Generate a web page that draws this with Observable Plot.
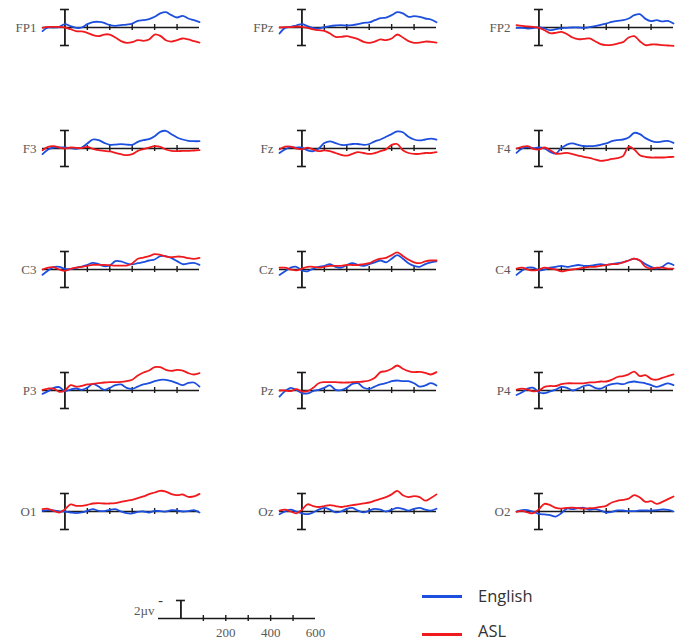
<!DOCTYPE html>
<html>
<head>
<meta charset="utf-8">
<script src="https://cdn.jsdelivr.net/npm/d3@7"></script>
<script src="https://cdn.jsdelivr.net/npm/@observablehq/plot@0.6"></script>
<style>
  html, body { margin: 0; padding: 0; background: #fff; }
  #wrap { position: relative; width: 683px; height: 642px; overflow: hidden; }
  #main { position: absolute; left: 0; top: 0; }
  #scale { position: absolute; left: 0; top: 582px; }
  .leg { position: absolute; font-family: "Open Sans", sans-serif; font-size: 16.5px; line-height: 14px; color: #333; white-space: nowrap; }
  .sw { position: absolute; height: 3px; width: 40px; }
</style>
</head>
<body>
<div id="wrap">
  <div id="main"></div>
  <div id="scale"></div>
  <div id="legend"></div>
</div>
<script>
// ---- data (µV; negative plotted up) ----
const times = [-100,-75,-50,-25,0,25,50,75,100,125,150,175,200,225,250,275,300,325,350,375,400,425,450,475,500,525,550,575,600];
const grid = [["FP1","FPz","FP2"],["F3","Fz","F4"],["C3","Cz","C4"],["P3","Pz","P4"],["O1","Oz","O2"]];
const groups = ["English","ASL"];
const groupColors = ["#1d4fde","#f01a1e"];
const scaleTicks = [100,200,300,400,500];
const scaleLabels = [200,400,600];

const en_FP1 = [0.4,0,0,-0.07,-0.37,-0.15,0.04,0,-0.37,-0.6,-0.63,-0.52,-0.26,-0.19,-0.26,-0.33,-0.44,-0.74,-0.81,-0.93,-1.19,-1.56,-1.7,-1.37,-1.11,-1.3,-1.0,-0.81,-0.6];
const asl_FP1 = [0.04,-0.07,-0.07,-0.07,0,0.19,0.41,0.44,0.59,0.85,0.96,0.78,0.78,1.11,1.52,1.7,1.63,1.41,1.48,1.33,0.78,0.93,1.41,1.56,1.41,1.22,1.33,1.52,1.67];
const en_FPz = [0.67,0.04,-0.07,-0.22,-0.37,-0.15,0.07,0.11,-0.04,-0.15,-0.22,-0.26,-0.22,-0.26,-0.37,-0.52,-0.56,-0.81,-1.04,-1.11,-1.37,-1.7,-1.56,-1.19,-1.26,-1.19,-1.0,-0.89,-0.59];
const asl_FPz = [0,-0.04,-0.04,-0.11,-0.07,0.04,0.22,0.3,0.37,0.67,1.04,1.04,0.96,1.11,1.3,1.59,1.7,1.56,1.33,1.41,1.22,0.78,1.11,1.52,1.7,1.67,1.56,1.59,1.67];
const en_FP2 = [0.04,0.04,0.11,0.07,-0.04,0.11,0.3,0.19,0.07,0.04,0,0,0.04,-0.04,-0.15,-0.3,-0.44,-0.63,-0.74,-0.81,-1.0,-1.37,-1.48,-0.96,-0.7,-0.81,-0.67,-0.74,-0.44];
const asl_FP2 = [-0.26,-0.19,-0.11,-0.07,0.04,0.3,0.63,0.59,0.48,0.74,1.11,1.3,1.26,1.22,1.52,1.85,1.96,1.93,1.78,1.63,1.11,0.96,1.52,1.96,1.89,1.89,1.96,2.0,2.04];
const en_F3 = [0.63,0.11,-0.11,-0.11,-0.11,-0.04,0.04,-0.11,-0.56,-1.0,-0.93,-0.63,-0.41,-0.44,-0.48,-0.44,-0.41,-0.74,-0.93,-1.04,-1.37,-1.85,-1.96,-1.59,-1.22,-1.0,-0.85,-0.81,-0.81];
const asl_F3 = [0.19,-0.19,-0.26,-0.11,0,-0.11,-0.07,-0.04,-0.19,0.04,0.19,0.26,0.33,0.48,0.63,0.74,0.63,0.26,0.07,-0.11,-0.26,-0.19,0.11,0.26,0.3,0.26,0.26,0.22,0.19];
const en_Fz = [0.5,0.1,-0.15,-0.1,-0.1,0.2,0.3,0,-0.6,-0.8,-0.6,-0.4,-0.4,-0.5,-0.5,-0.4,-0.5,-0.8,-1.0,-1.3,-1.6,-1.9,-1.8,-1.3,-1.0,-0.9,-1.0,-1.1,-1.0];
const asl_Fz = [0.1,-0.2,-0.2,0,0.1,-0.1,0.1,0.3,0.2,0.3,0.5,0.7,0.8,0.6,0.4,0.5,0.6,0.5,0.3,0.1,-0.4,-0.5,0.2,0.5,0.6,0.6,0.5,0.5,0.4];
const en_F4 = [0.48,0,-0.15,-0.04,-0.11,0,0.37,0.56,-0.04,-0.44,-0.56,-0.41,-0.26,-0.26,-0.3,-0.41,-0.56,-0.81,-0.93,-1.0,-1.22,-1.74,-1.59,-1.15,-0.85,-0.7,-0.78,-0.85,-0.63];
const asl_F4 = [0,-0.19,-0.26,0.04,0.11,-0.11,0.19,0.56,0.56,0.48,0.63,0.78,0.93,1.04,1.22,1.37,1.3,1.15,1.07,0.85,-0.19,0.11,0.74,0.93,1.0,1.0,1.0,0.96,0.93];
const en_C3 = [0.59,0.11,-0.26,-0.3,-0.07,-0.04,-0.19,-0.33,-0.52,-0.74,-0.59,-0.37,-0.44,-0.93,-0.89,-0.67,-0.56,-0.7,-0.81,-1.0,-1.11,-1.48,-1.48,-1.26,-0.93,-0.59,-0.67,-0.74,-0.52];
const asl_C3 = [0,-0.22,-0.26,0,0.15,-0.07,-0.22,-0.3,-0.41,-0.52,-0.52,-0.52,-0.48,-0.44,-0.44,-0.44,-0.67,-1.19,-1.33,-1.48,-1.7,-1.63,-1.44,-1.37,-1.44,-1.41,-1.26,-1.19,-1.3];
const en_Cz = [0.6,0.2,-0.2,-0.3,0.1,0.2,-0.1,-0.3,-0.4,-0.6,-0.3,-0.2,-0.5,-0.7,-0.5,-0.4,-0.6,-0.8,-1.0,-0.8,-1.2,-1.6,-1.2,-0.7,-0.4,-0.3,-0.6,-0.8,-0.9];
const asl_Cz = [-0.2,-0.2,0,0.1,-0.1,-0.3,-0.3,-0.2,-0.3,-0.4,-0.4,-0.4,-0.5,-0.5,-0.5,-0.6,-0.7,-1.0,-1.2,-1.3,-1.6,-1.9,-1.5,-1.1,-0.8,-0.7,-0.9,-1.0,-1.0];
const en_C4 = [0.6,0.1,-0.2,-0.2,0.1,0,-0.2,-0.3,-0.4,-0.3,-0.4,-0.5,-0.4,-0.4,-0.5,-0.6,-0.5,-0.6,-0.7,-0.8,-1.0,-1.2,-1.0,-0.6,-0.3,-0.1,-0.3,-0.7,-0.5];
const asl_C4 = [-0.1,-0.2,0,0.1,0,-0.2,-0.1,0,0.2,0.1,0,-0.1,-0.2,-0.3,-0.3,-0.4,-0.5,-0.6,-0.6,-0.8,-1.0,-1.2,-1.0,-0.3,-0.1,-0.2,-0.2,-0.1,-0.1];
const en_P3 = [0.37,0.07,-0.3,-0.37,0.07,-0.11,-0.22,-0.07,-0.3,-0.74,-0.44,-0.07,-0.3,-0.59,-0.67,-0.3,-0.19,-0.44,-0.67,-0.81,-1.04,-1.19,-1.19,-1.04,-0.81,-0.59,-0.85,-0.89,-0.44];
const asl_P3 = [-0.07,-0.22,-0.22,0.15,0,-0.59,-0.44,-0.52,-0.67,-0.74,-0.81,-0.89,-0.93,-0.93,-0.96,-1.04,-1.19,-1.67,-2.0,-2.22,-2.59,-2.59,-2.3,-2.19,-2.3,-2.22,-1.93,-1.78,-1.93];
const en_Pz = [0.67,0.07,-0.3,-0.07,0.3,0.33,0.07,-0.07,-0.3,-0.56,-0.07,-0.04,-0.3,-0.74,-0.81,-0.3,-0.19,-0.44,-0.67,-0.81,-1.04,-1.11,-1.04,-1.04,-0.81,-0.44,-0.56,-0.81,-0.56];
const asl_Pz = [0,0,0.07,-0.15,0.11,0.07,-0.3,-0.81,-0.93,-0.93,-0.93,-0.89,-0.89,-0.93,-0.96,-1.0,-1.11,-1.41,-2.04,-2.15,-2.41,-2.78,-2.41,-2.15,-2.04,-2.07,-1.96,-1.78,-2.04];
const en_P4 = [0.5,0.2,-0.2,-0.3,0.2,0.3,0.1,-0.1,-0.4,-0.3,0,-0.2,-0.5,-0.6,-0.3,-0.2,-0.5,-0.7,-0.8,-0.7,-0.9,-1.0,-0.9,-0.8,-0.6,-0.4,-0.6,-0.8,-0.6];
const asl_P4 = [-0.1,-0.2,-0.1,0.1,0,-0.4,-0.5,-0.5,-0.7,-0.8,-0.8,-0.8,-0.8,-0.9,-0.9,-1.0,-1.0,-1.2,-1.5,-1.6,-1.8,-2.1,-1.6,-1.7,-1.3,-1.2,-1.4,-1.6,-1.8];
const en_O1 = [-0.07,-0.15,-0.11,0,0,0.11,0.19,0.11,-0.07,-0.26,-0.07,-0.04,-0.19,-0.26,0,0.19,0.22,0.04,0,0.11,-0.07,-0.04,0,-0.15,-0.11,0,-0.04,-0.15,0.11];
const asl_O1 = [-0.26,-0.3,-0.07,0.11,-0.26,-0.78,-0.63,-0.63,-0.74,-0.89,-0.93,-0.89,-0.89,-0.93,-1.07,-1.19,-1.3,-1.48,-1.67,-1.93,-2.11,-2.3,-2.22,-1.93,-1.81,-1.89,-1.63,-1.67,-1.96];
const en_Oz = [0.3,0,-0.2,0,0.2,0.3,0.1,-0.2,-0.4,-0.2,0.1,0,-0.3,-0.4,-0.1,0.1,-0.1,-0.3,-0.2,0,-0.2,-0.4,-0.3,-0.1,-0.3,-0.4,-0.2,-0.1,-0.3];
const asl_Oz = [-0.1,-0.2,0,0.2,-0.2,-0.8,-0.6,-0.5,-0.6,-0.7,-0.6,-0.5,-0.6,-0.7,-0.8,-0.9,-1.0,-1.2,-1.4,-1.6,-1.9,-2.3,-1.8,-1.6,-1.7,-1.6,-1.2,-1.5,-1.9];
const en_O2 = [0,-0.15,-0.15,0.04,0.26,0.33,0.41,0.56,0.19,-0.33,-0.26,-0.37,-0.41,-0.19,-0.26,-0.11,0.11,0.04,-0.11,-0.11,-0.04,-0.04,-0.11,-0.11,-0.11,-0.15,-0.22,-0.19,0];
const asl_O2 = [0.04,-0.07,0.11,0.19,-0.26,-0.85,-0.7,-0.41,-0.33,-0.41,-0.44,-0.37,-0.33,-0.37,-0.41,-0.52,-0.63,-1.0,-1.19,-1.3,-1.44,-1.81,-1.56,-1.07,-1.15,-0.85,-1.07,-1.37,-1.67];

const englishByChannel = {FP1:en_FP1,FPz:en_FPz,FP2:en_FP2,F3:en_F3,Fz:en_Fz,F4:en_F4,C3:en_C3,Cz:en_Cz,C4:en_C4,P3:en_P3,Pz:en_Pz,P4:en_P4,O1:en_O1,Oz:en_Oz,O2:en_O2};
const aslByChannel = {FP1:asl_FP1,FPz:asl_FPz,FP2:asl_FP2,F3:asl_F3,Fz:asl_Fz,F4:asl_F4,C3:asl_C3,Cz:asl_Cz,C4:asl_C4,P3:asl_P3,Pz:asl_Pz,P4:asl_P4,O1:asl_O1,Oz:asl_Oz,O2:asl_O2};

// ---- build tables ----
const panels = [];
const rowsData = [];
grid.forEach((r, ri) => r.forEach((ch, ci) => {
  panels.push({channel: ch, row: ri, col: ci});
  [["English", englishByChannel[ch]], ["ASL", aslByChannel[ch]]].forEach(([g, arr]) => {
    arr.forEach((v, i) => rowsData.push({channel: ch, row: ri, col: ci, group: g, t: times[i], v}));
  });
}));

const ink = "#1a1a1a";
const serif = "'Liberation Serif', 'Times New Roman', serif";

const main = Plot.plot({
  width: 683,
  height: 540,
  marginLeft: 42,
  marginRight: 10,
  marginTop: 0,
  marginBottom: 2,
  fx: {domain: [0,1,2], paddingInner: 80/237, paddingOuter: 0, round: false, axis: null},
  fy: {domain: [0,1,2,3,4], paddingInner: 67/121, paddingOuter: 0, round: false, axis: null},
  x: {domain: [-100, 600], axis: null},
  y: {domain: [-3, 3], reverse: true, axis: null},
  color: {domain: groups, range: groupColors},
  marks: [
    Plot.ruleY([0], {x1: -100, x2: 600, stroke: ink, strokeWidth: 1.6}),
    Plot.ruleX(scaleTicks, {y1: -0.33, y2: 0.33, stroke: ink, strokeWidth: 1.4}),
    Plot.ruleX([0], {y1: -2, y2: 2, stroke: ink, strokeWidth: 1.8}),
    Plot.ruleY([-2, 2], {x1: -20, x2: 20, stroke: ink, strokeWidth: 1.6}),
    Plot.line(rowsData, {fx: "col", fy: "row", x: "t", y: "v", z: "group", stroke: "group", curve: "catmull-rom", strokeWidth: 1.8}),
    Plot.text(panels, {fx: "col", fy: "row", x: -100, y: 0, text: "channel", textAnchor: "end", dx: -6, fontFamily: serif, fontSize: 13, fill: "#595959"})
  ]
});
document.getElementById("main").appendChild(main);

const scale = Plot.plot({
  width: 683,
  height: 60,
  marginLeft: 158,
  marginRight: 368,
  marginTop: 0,
  marginBottom: 0,
  x: {domain: [-100, 600], axis: null},
  y: {domain: [-4, 2.667], reverse: true, axis: null},
  marks: [
    Plot.ruleY([0], {x1: -100, x2: 600, stroke: ink, strokeWidth: 1.6}),
    Plot.ruleX(scaleTicks, {y1: -0.33, y2: 0.33, stroke: ink, strokeWidth: 1.4}),
    Plot.ruleX([0], {y1: -2, y2: 0, stroke: ink, strokeWidth: 1.8}),
    Plot.ruleY([-2], {x1: -20, x2: 20, stroke: ink, strokeWidth: 1.6}),
    Plot.text(["-"], {x: -100, y: -2, dx: 2, text: d => d, fontFamily: serif, fontSize: 14, fill: "#333"}),
    Plot.text(["2µv"], {x: -100, y: -0.9, dx: -4, text: d => d, textAnchor: "end", fontFamily: serif, fontSize: 13, fill: "#595959"}),
    Plot.text(scaleLabels, {x: d => d, y: 0, dy: 14, text: d => String(d), fontFamily: serif, fontSize: 13, fill: "#595959"})
  ]
});
document.getElementById("scale").appendChild(scale);

// legend
const leg = document.getElementById("legend");
const swatchPos = [596, 634];
const labelPos = [596, 631];
groups.forEach((g, i) => {
  const sw = document.createElement("div");
  sw.className = "sw";
  sw.style.left = "422px";
  sw.style.top = (swatchPos[i] - 1.5) + "px";
  sw.style.background = groupColors[i];
  leg.appendChild(sw);
  const tx = document.createElement("div");
  tx.className = "leg";
  tx.style.left = "478px";
  tx.style.top = (labelPos[i] - 7) + "px";
  tx.textContent = g;
  leg.appendChild(tx);
});
</script>
</body>
</html>
